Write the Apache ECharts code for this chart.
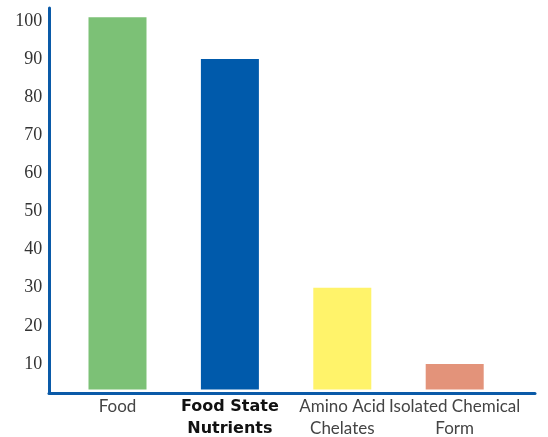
<!DOCTYPE html>
<html>
<head>
<meta charset="utf-8">
<style>html,body{margin:0;padding:0;background:#fff;}#c{width:548px;height:437px;}</style>
<script src="https://cdn.jsdelivr.net/npm/echarts@6/dist/echarts.min.js"></script>
</head>
<body>
<div id="c"></div>
<script>
const categories = ['Food', 'Food State\nNutrients', 'Amino Acid\nChelates', 'Isolated Chemical\nForm'];
const values = [101, 90, 30, 10];
const barColors = ['#7cc176', '#005aab', '#fff36a', '#e3937a'];
const yTicks = [10, 20, 30, 40, 50, 60, 70, 80, 90, 100];

const chart = echarts.init(document.getElementById('c'), null, {renderer: 'canvas'});
const axisBlue = '#0a5aa8';
chart.setOption({
  animation: false,
  grid: [
    {left: 61.3, right: 37.1, top: 8, bottom: 45},
    {left: 49, right: 13, top: 8, bottom: 44}
  ],
  xAxis: [
    {
      type: 'category', gridIndex: 0, data: categories,
      axisLine: {show: false}, axisTick: {show: false},
      axisLabel: {
        margin: 6,
        interval: 0,
        formatter: function (v, i) {
          if (i === 1) return v.split('\n').map(s => '{b|' + s + '}').join('\n');
          return v.split('\n').map(s => '{n|' + s + '}').join('\n');
        },
        rich: {
          n: {fontFamily: 'Lato', fontSize: 17, color: '#444', lineHeight: 22, fontWeight: 'normal'},
          b: {fontFamily: 'DejaVu Sans', fontSize: 16, color: '#111', lineHeight: 22, fontWeight: 'bold'}
        }
      }
    },
    {
      type: 'value', gridIndex: 1, min: 0, max: 1,
      axisLine: {show: true, onZero: false, lineStyle: {color: axisBlue, width: 3}},
      axisTick: {show: false}, axisLabel: {show: false}, splitLine: {show: false}
    }
  ],
  yAxis: [
    {
      type: 'value', gridIndex: 0, min: 3.3, max: 103.4,
      axisLine: {show: false}, axisTick: {show: false}, splitLine: {show: false},
      axisLabel: {
        customValues: yTicks,
        margin: 19,
        fontFamily: 'Liberation Serif', fontSize: 18, color: '#333'
      }
    },
    {
      type: 'value', gridIndex: 1, min: 0, max: 1,
      axisLine: {show: true, onZero: false, lineStyle: {color: axisBlue, width: 3}},
      axisTick: {show: false}, axisLabel: {show: false}, splitLine: {show: false}
    }
  ],
  series: [{
    type: 'bar',
    xAxisIndex: 0, yAxisIndex: 0,
    barWidth: 58,
    clip: true,
    data: values.map((v, i) => ({value: v, itemStyle: {color: barColors[i]}}))
  }]
});
</script>
</body>
</html>
